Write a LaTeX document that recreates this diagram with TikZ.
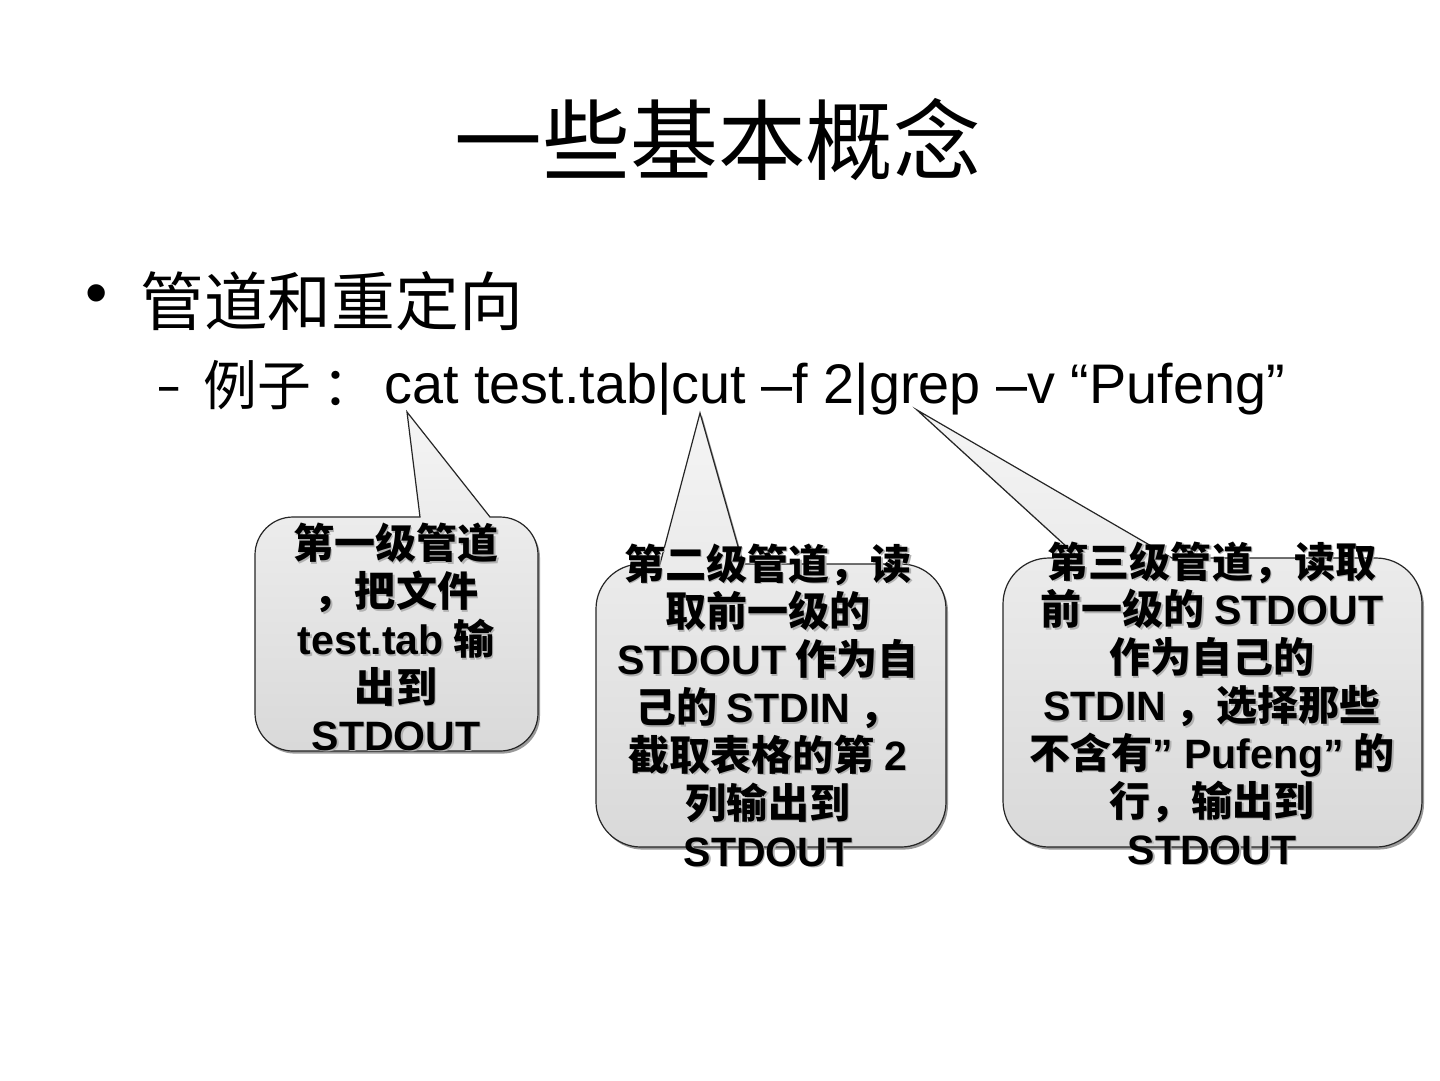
\documentclass[tikz,border=0pt]{standalone}
\usepackage{fontspec}
\setmainfont{Liberation Sans}
\newfontfamily\cjk{Noto Sans CJK SC}
\newfontfamily\lat{Liberation Sans}
\usetikzlibrary{shadows}
\newcommand\callpath[9]{(#6,#2) -- (#8,#9) -- (#7,#2) -- ({#3-#5},#2) arc[start angle=-90,end angle=0,radius=#5] -- (#3,{#4-#5}) arc[start angle=0,end angle=90,radius=#5] -- ({#1+#5},#4) arc[start angle=90,end angle=180,radius=#5] -- (#1,{#2+#5}) arc[start angle=180,end angle=270,radius=#5] -- cycle}
\newcommand\shtext[4]{%
  \node[ctext, text=black!30] (#1s) at ({#2+1.5},{#3+1.5}) {#4};
  \node[ctext] (#1) at (#2,#3) {#4};}
\tikzset{
  callout/.style={draw=black!85, line width=0.6bp, top color=gray!8, bottom color=gray!30,
    drop shadow={shadow xshift=1bp, shadow yshift=-1.3bp, fill=black, opacity=0.4}},
  ctext/.style={font=\cjk\bfseries\fontsize{20.6}{24}\selectfont, align=center, inner sep=0pt},
  plain/.style={inner sep=0pt}
}
\begin{document}
\begin{tikzpicture}[x=0.5bp,y=-0.5bp]
\useasboundingbox[fill=white] (0,0) rectangle (1440,1080);
% title and bullets
\node[plain, anchor=base, font=\cjk\fontsize{44}{44}\selectfont] (title) at (718,173) {一些基本概念};
\node[plain, font=\fontsize{32}{32}\selectfont] (dot) at (97,300) {•};
\node[plain, anchor=base west, font=\cjk\fontsize{32}{32}\selectfont] (head) at (140,325) {管道和重定向};
\node[plain, anchor=base west, font=\fontsize{28}{28}\selectfont] (dash) at (159,403) {\scalebox{0.62}[1]{–}};
\node[plain, anchor=base west, font=\cjk\fontsize{27}{27}\selectfont] (ex) at (203,405) {例子\hspace{6bp}：};
\node[plain, anchor=base west, font=\fontsize{28}{28}\selectfont] (cmd) at (384,403) {cat test.tab|cut –f 2|grep –v “Pufeng”};
% callouts
\path[callout] \callpath{255}{517}{538}{751}{38}{420}{490}{407}{412};
\path[callout] \callpath{596}{564}{946}{847}{45}{660}{743}{700}{413};
\path[callout] \callpath{1003}{558}{1422}{847}{46}{1079}{1172}{917}{410};
\shtext{ta}{396}{637}{第一级管道\\，把文件\\{\lat test.tab} 输\\出到\\{\lat STDOUT}}
\shtext{tb}{768}{705}{第二级管道，读\\取前一级的\\{\lat STDOUT} 作为自\\己的 {\lat STDIN} ，\\截取表格的第 {\lat 2}\\列输出到\\{\lat STDOUT}}
\shtext{tc}{1212}{703}{第三级管道，读取\\前一级的 {\lat STDOUT}\\作为自己的\\{\lat STDIN} ，选择那些\\不含有{\lat ” Pufeng”} 的\\行，输出到\\{\lat STDOUT}}
\end{tikzpicture}
\end{document}
